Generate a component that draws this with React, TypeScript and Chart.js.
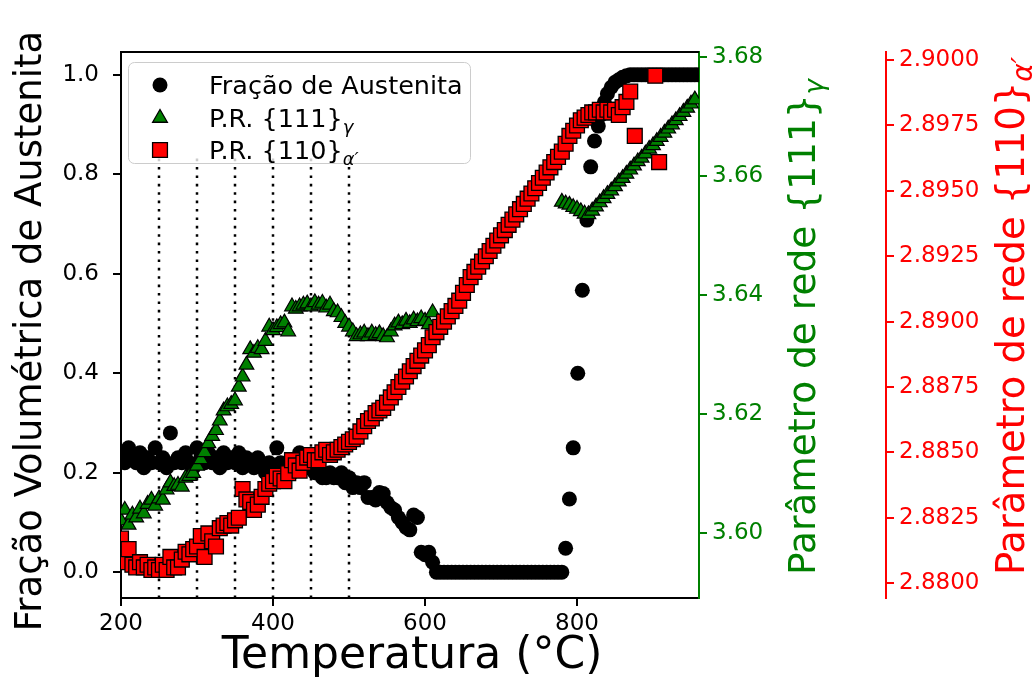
import { useEffect, useRef } from 'react';
import { Chart, registerables } from 'chart.js';

Chart.register(...registerables);

// ---- Data -------------------------------------------------------------

// Austenite volume fraction vs temperature (left axis)
const austeniteTemp = [
  200, 205, 210, 215, 220, 225, 230, 235, 240, 245, 250, 255, 260, 265, 270, 275, 280, 285, 290, 295,
  300, 305, 310, 315, 320, 325, 330, 335, 340, 345, 350, 355, 360, 365, 370, 375, 380, 385, 390, 395,
  400, 405, 410, 415, 420, 425, 430, 435, 440, 445, 450, 455, 460, 465, 470, 475, 480, 485, 490, 495,
  500, 505, 510, 515, 520, 525, 530, 535, 540, 545, 550, 555, 560, 565, 570, 575, 580, 585, 590, 595,
  600, 605, 610, 615, 620, 625, 630, 635, 640, 645, 650, 655, 660, 665, 670, 675, 680, 685, 690, 695,
  700, 705, 710, 715, 720, 725, 730, 735, 740, 745, 750, 755, 760, 765, 770, 775, 780,
  785, 790, 795, 801, 807, 813, 818, 823, 828, 832, 836, 840, 845, 850, 855, 860, 865, 870,
  875, 880, 885, 890, 895, 900, 905, 910, 915, 920, 925, 930, 935, 940, 945, 950, 955, 960,
];
const austeniteFraction = [
  0.24, 0.22, 0.25, 0.23, 0.22, 0.24, 0.21, 0.23, 0.22, 0.25, 0.22, 0.23, 0.21, 0.28, 0.22, 0.23, 0.22, 0.24, 0.22, 0.21,
  0.25, 0.23, 0.22, 0.24, 0.22, 0.23, 0.21, 0.24, 0.22, 0.23, 0.22, 0.24, 0.21, 0.23, 0.22, 0.21, 0.23, 0.22, 0.2, 0.22,
  0.21, 0.25, 0.22, 0.21, 0.22, 0.2, 0.21, 0.24, 0.22, 0.21, 0.21, 0.2, 0.21, 0.19, 0.19, 0.2, 0.19, 0.19, 0.2, 0.18,
  0.19, 0.17, 0.18, 0.17, 0.18, 0.15, 0.15, 0.145, 0.16, 0.158, 0.14, 0.13, 0.125, 0.11, 0.1, 0.09, 0.085, 0.115, 0.11, 0.04,
  0.035, 0.04, 0.02, 0.0, 0, 0, 0, 0, 0, 0, 0, 0, 0, 0, 0, 0, 0, 0, 0, 0,
  0, 0, 0, 0, 0, 0, 0, 0, 0, 0, 0, 0, 0, 0, 0, 0, 0,
  0.048, 0.147, 0.25, 0.4, 0.567, 0.708, 0.815, 0.867, 0.897, 0.92, 0.945, 0.962, 0.975, 0.985, 0.99, 0.995, 0.998, 1.0,
  1, 1, 1, 1, 1, 1, 1, 1, 1, 1, 1, 1, 1, 1, 1, 1, 1, 1,
];

// Lattice parameter {111} of austenite (green axis)
const gammaTemp = [
  200, 205, 210, 215, 220, 225, 230, 235, 240, 245, 250, 255, 260, 265, 270, 275, 280, 285, 290, 295,
  300, 305, 310, 315, 320, 325, 330, 335, 340, 345, 350, 355, 360, 365, 370, 375, 380, 385, 390, 395,
  400, 405, 410, 415, 420, 425, 430, 435, 440, 445, 450, 455, 460, 465, 470, 475, 480, 485, 490, 495,
  500, 505, 510, 515, 520, 525, 530, 535, 540, 545, 550, 555, 560, 565, 570, 575, 580, 585, 590, 595,
  600, 605, 610,
  780, 785, 790, 795, 800, 805, 810, 815, 820, 825, 830, 835, 840, 845, 850, 855, 860, 865,
  870, 875, 880, 885, 890, 895, 900, 905, 910, 915, 920, 925, 930, 935, 940, 945, 950, 955,
];
const gammaLattice = [
  3.602, 3.6038, 3.6013, 3.603, 3.6025, 3.604, 3.6032, 3.6048, 3.6055, 3.6045, 3.6057, 3.6055, 3.6072, 3.6084, 3.6078, 3.608, 3.6077, 3.6092, 3.6095, 3.61,
  3.6112, 3.6123, 3.6135, 3.615, 3.6162, 3.6172, 3.6188, 3.6205, 3.6212, 3.6216, 3.6222, 3.6245, 3.6262, 3.6282, 3.6308, 3.6302, 3.631, 3.6308, 3.6322, 3.6346,
  3.634, 3.6345, 3.635, 3.6353, 3.6338, 3.638, 3.6376, 3.638, 3.6383, 3.6385, 3.638, 3.6387, 3.6383, 3.6386, 3.6378, 3.6383, 3.6372, 3.637, 3.6362, 3.6352,
  3.6346, 3.6338, 3.633, 3.6333, 3.6336, 3.633, 3.6336, 3.6332, 3.6335, 3.633, 3.6328, 3.6338, 3.6348, 3.6353, 3.635, 3.6356, 3.6352, 3.6358, 3.6355, 3.636,
  3.6356, 3.635, 3.637,
  3.6556, 3.6553, 3.6551, 3.6547, 3.6544, 3.654, 3.6536, 3.6535, 3.6541, 3.6548, 3.6555, 3.6562, 3.6569, 3.6575, 3.6582, 3.659, 3.6596, 3.6603,
  3.661, 3.6617, 3.6624, 3.663, 3.6637, 3.6645, 3.6651, 3.6658, 3.6665, 3.6672, 3.6679, 3.6686, 3.6693, 3.67, 3.6707, 3.6714, 3.6721, 3.6728,
];

// Lattice parameter {110} of martensite (red axis)
const alphaTemp = [
  200, 205, 210, 215, 220, 225, 230, 235, 240, 245, 250, 255, 260, 265, 270, 275, 280, 285, 290, 295,
  300, 305, 310, 315, 320, 325, 330, 335, 340, 345, 350, 355, 360, 365, 370, 375, 380, 385, 390, 395,
  400, 405, 410, 415, 420, 425, 430, 435, 440, 445, 450, 455, 460, 465, 470, 475, 480, 485, 490, 495,
  500, 505, 510, 515, 520, 525, 530, 535, 540, 545, 550, 555, 560, 565, 570, 575, 580, 585, 590, 595,
  600, 605, 610, 615, 620, 625, 630, 635, 640, 645, 650, 655, 660, 665, 670, 675, 680, 685, 690, 695,
  700, 705, 710, 715, 720, 725, 730, 735, 740, 745, 750, 755, 760, 765, 770, 775, 780, 785, 790, 795,
  800, 805, 810, 815, 820, 825, 830, 835, 840, 845, 850, 855, 860, 865, 870,
  876, 903, 908,
];
const alphaLattice = [
  2.8817, 2.8808, 2.8813, 2.8807, 2.8806, 2.8808, 2.8806, 2.8807, 2.8805, 2.8806,
  2.8805, 2.8807, 2.8805, 2.881, 2.8806, 2.8806, 2.8809, 2.8812, 2.8811, 2.8813,
  2.8814, 2.8818, 2.881, 2.8819, 2.8816, 2.8814, 2.8821, 2.8822, 2.8823, 2.8822,
  2.8824, 2.8825, 2.8836, 2.8832, 2.8831, 2.8828, 2.883, 2.8833, 2.8836, 2.8838,
  2.8839, 2.8841, 2.884, 2.8839, 2.8842, 2.8847, 2.8845, 2.8843, 2.8846, 2.8848,
  2.8849, 2.8847, 2.8847, 2.885, 2.8851, 2.8849, 2.885, 2.8851, 2.8852, 2.8853,
  2.8854, 2.8855, 2.8856, 2.8858, 2.886, 2.8862, 2.8863, 2.8865, 2.8866, 2.8867,
  2.8869, 2.8871, 2.8873, 2.8875, 2.8877, 2.8879, 2.8881, 2.8883, 2.8885, 2.8887,
  2.8889, 2.8891, 2.8894, 2.8896, 2.8898, 2.89, 2.8902, 2.8904, 2.8906, 2.8908,
  2.8911, 2.8914, 2.8917, 2.8919, 2.8921, 2.8923, 2.8925, 2.8927, 2.8929, 2.8931,
  2.8933, 2.8935, 2.8937, 2.8939, 2.8941, 2.8943, 2.8945, 2.8947, 2.8949, 2.8951,
  2.8953, 2.8955, 2.8957, 2.8959, 2.8961, 2.8963, 2.8965, 2.8968, 2.8971, 2.8973,
  2.8975, 2.8977, 2.8978, 2.8979, 2.898, 2.898, 2.8981, 2.898, 2.8981, 2.898,
  2.8981, 2.8979, 2.8982, 2.8984, 2.8988,
  2.8971, 2.8994, 2.8961,
];

// Temperatures marked with dotted vertical lines
const markedTemps = [250, 300, 350, 400, 450, 500];

// Axis ticks
const xTicks = [200, 400, 600, 800];
const fractionTicks = [0.0, 0.2, 0.4, 0.6, 0.8, 1.0];
const gammaTicks = [3.6, 3.62, 3.64, 3.66, 3.68];
const alphaTicks = [2.88, 2.8825, 2.885, 2.8875, 2.89, 2.8925, 2.895, 2.8975, 2.9];

// ---- Styling ----------------------------------------------------------

const FONT = "'DejaVu Sans', 'Liberation Sans', sans-serif";
const GREEN = '#008000';
const RED = '#ff0000';
const TICK_SIZE = 23;
const LEGEND_SIZE = 25.5;

const R_CIRCLE = 7.5;
const R_TRIANGLE = 8.5;
const R_RECT = 10.5;

type Part = { text: string; size: number; italic?: boolean; dy?: number };

function drawRichText(
  ctx: CanvasRenderingContext2D,
  parts: Part[],
  x: number,
  y: number,
  angle: number,
  color: string,
  align: 'center' | 'left',
) {
  ctx.save();
  ctx.translate(x, y);
  ctx.rotate(angle);
  ctx.fillStyle = color;
  ctx.textBaseline = 'alphabetic';
  ctx.textAlign = 'left';
  const widths = parts.map((p) => {
    ctx.font = `${p.italic ? 'italic ' : ''}${p.size}px ${FONT}`;
    return ctx.measureText(p.text).width;
  });
  const total = widths.reduce((a, b) => a + b, 0);
  let cx = align === 'center' ? -total / 2 : 0;
  parts.forEach((p, i) => {
    ctx.font = `${p.italic ? 'italic ' : ''}${p.size}px ${FONT}`;
    ctx.fillText(p.text, cx, p.dy || 0);
    cx += widths[i];
  });
  ctx.restore();
}

function drawMarker(ctx: CanvasRenderingContext2D, style: string, x: number, y: number) {
  ctx.beginPath();
  if (style === 'circle') {
    ctx.arc(x, y, R_CIRCLE, 0, Math.PI * 2);
    ctx.fillStyle = '#000';
    ctx.fill();
    return;
  }
  if (style === 'triangle') {
    const r = R_TRIANGLE;
    let a = 0;
    ctx.moveTo(x + Math.sin(a) * r, y - Math.cos(a) * r);
    a += (2 * Math.PI) / 3;
    ctx.lineTo(x + Math.sin(a) * r, y - Math.cos(a) * r);
    a += (2 * Math.PI) / 3;
    ctx.lineTo(x + Math.sin(a) * r, y - Math.cos(a) * r);
    ctx.closePath();
    ctx.fillStyle = GREEN;
  } else {
    const s = Math.SQRT1_2 * R_RECT;
    ctx.rect(x - s, y - s, 2 * s, 2 * s);
    ctx.fillStyle = RED;
  }
  ctx.fill();
  ctx.strokeStyle = '#000';
  ctx.lineWidth = 1.3;
  ctx.stroke();
}

const decorations = {
  id: 'decorations',
  beforeDatasetsDraw(chart: any) {
    const { ctx, chartArea, scales } = chart;
    ctx.save();
    ctx.strokeStyle = '#000';
    ctx.lineWidth = 2.5;
    ctx.setLineDash([2.6, 5.8]);
    const top = chartArea.bottom - 0.81 * (chartArea.bottom - chartArea.top);
    for (const t of markedTemps) {
      const x = Math.round(scales.x.getPixelForValue(t));
      ctx.beginPath();
      ctx.moveTo(x, chartArea.bottom);
      ctx.lineTo(x, top);
      ctx.stroke();
    }
    ctx.restore();
  },
  afterDraw(chart: any) {
    const { ctx, chartArea } = chart;
    ctx.save();
    // top spine
    ctx.strokeStyle = '#000';
    ctx.lineWidth = 2;
    ctx.beginPath();
    ctx.moveTo(chartArea.left - 1, chartArea.top);
    ctx.lineTo(chartArea.right, chartArea.top);
    ctx.stroke();

    // legend
    const lx = 128.5, ly = 62.5, lw = 342, lh = 101;
    ctx.beginPath();
    ctx.roundRect(lx, ly, lw, lh, 6);
    ctx.fillStyle = 'rgba(255,255,255,0.8)';
    ctx.fill();
    ctx.strokeStyle = '#cccccc';
    ctx.lineWidth = 1;
    ctx.stroke();

    const rows = [
      { style: 'circle', y: 85, parts: [{ text: 'Fração de Austenita', size: LEGEND_SIZE }] },
      {
        style: 'triangle',
        y: 118,
        parts: [
          { text: 'P.R. {111}', size: LEGEND_SIZE },
          { text: 'γ', size: 18, italic: true, dy: 6 },
        ],
      },
      {
        style: 'rect',
        y: 150,
        parts: [
          { text: 'P.R. {110}', size: LEGEND_SIZE },
          { text: 'α′', size: 18, italic: true, dy: 6 },
        ],
      },
    ];
    for (const row of rows) {
      drawMarker(ctx, row.style, 160, row.y);
      drawRichText(ctx, row.parts, 209, row.y + 9, 0, '#000', 'left');
    }

    // axis titles
    const midY = (chartArea.top + chartArea.bottom) / 2;
    drawRichText(
      ctx,
      [{ text: 'Temperatura (°C)', size: 44 }],
      (chartArea.left + chartArea.right) / 2 + 2,
      668,
      0,
      '#000',
      'center',
    );
    drawRichText(
      ctx,
      [{ text: 'Fração Volumétrica de Austenita', size: 37 }],
      41,
      midY + 6,
      -Math.PI / 2,
      '#000',
      'center',
    );
    drawRichText(
      ctx,
      [
        { text: 'Parâmetro de rede {111}', size: 37.5 },
        { text: 'γ', size: 26, italic: true, dy: 8 },
      ],
      815,
      midY + 2,
      -Math.PI / 2,
      GREEN,
      'center',
    );
    drawRichText(
      ctx,
      [
        { text: 'Parâmetro de rede {110}', size: 38.5 },
        { text: 'α′', size: 28, italic: true, dy: 8 },
      ],
      1024,
      midY - 9,
      -Math.PI / 2,
      RED,
      'center',
    );
    ctx.restore();
  },
};

function points(xs: number[], ys: number[]) {
  return xs.map((x, i) => ({ x, y: ys[i] }));
}

function fixedTicks(values: number[]) {
  return (scale: any) => {
    scale.ticks = values.map((value) => ({ value }));
  };
}

function axisStyle(color: string, digits: number, padding: number) {
  return {
    grid: { drawOnChartArea: false, drawTicks: true, tickLength: 8, color, lineWidth: 2 },
    border: { display: true, color, width: 2 },
    ticks: {
      color,
      padding,
      autoSkip: false,
      maxRotation: 0,
      font: { size: TICK_SIZE, family: FONT },
      callback: (v: number) => Number(v).toFixed(digits),
    },
  };
}

export default function App() {
  const canvasRef = useRef<HTMLCanvasElement | null>(null);

  useEffect(() => {
    if (!canvasRef.current) return;
    Chart.defaults.font.family = FONT;
    const chart = new Chart(canvasRef.current, {
      type: 'scatter',
      data: {
        datasets: [
          {
            label: 'Fração de Austenita',
            data: points(austeniteTemp, austeniteFraction),
            yAxisID: 'yFraction',
            pointStyle: 'circle',
            pointRadius: R_CIRCLE,
            backgroundColor: '#000',
            borderColor: '#000',
            borderWidth: 0,
            order: 3,
          },
          {
            label: 'P.R. {111}γ',
            data: points(gammaTemp, gammaLattice),
            yAxisID: 'yGamma',
            pointStyle: 'triangle',
            pointRadius: R_TRIANGLE,
            backgroundColor: GREEN,
            borderColor: '#000',
            borderWidth: 1.2,
            order: 2,
          },
          {
            label: "P.R. {110}α′",
            data: points(alphaTemp, alphaLattice),
            yAxisID: 'yAlpha',
            pointStyle: 'rect',
            pointRadius: R_RECT,
            backgroundColor: RED,
            borderColor: '#000',
            borderWidth: 1.3,
            order: 1,
          },
        ],
      },
      options: {
        responsive: false,
        animation: false,
        events: [],
        layout: { padding: { top: 52, left: 0, right: 0, bottom: 0 } },
        plugins: { legend: { display: false }, tooltip: { enabled: false } },
        scales: {
          x: {
            type: 'linear',
            position: 'bottom',
            min: 200,
            max: 960.5,
            afterBuildTicks: fixedTicks(xTicks),
            afterFit: (s: any) => {
              s.height = 88;
            },
            ...axisStyle('#000', 0, 4),
          },
          yFraction: {
            type: 'linear',
            position: 'left',
            min: -0.052,
            max: 1.046,
            afterBuildTicks: fixedTicks(fractionTicks),
            afterFit: (s: any) => {
              s.width = 121;
            },
            ...axisStyle('#000', 1, 14),
          },
          yGamma: {
            type: 'linear',
            position: 'right',
            min: 3.589,
            max: 3.6808,
            afterBuildTicks: fixedTicks(gammaTicks),
            afterFit: (s: any) => {
              s.width = 187;
            },
            ...axisStyle(GREEN, 2, 5),
          },
          yAlpha: {
            type: 'linear',
            position: 'right',
            min: 2.87943,
            max: 2.90031,
            afterBuildTicks: fixedTicks(alphaTicks),
            afterFit: (s: any) => {
              s.width = 146;
            },
            ...axisStyle(RED, 4, 5),
          },
        },
      } as any,
      plugins: [decorations],
    });
    return () => chart.destroy();
  }, []);

  return (
    <div style={{ position: 'fixed', left: 0, top: 0, width: 1032, height: 686, background: '#fff' }}>
      <canvas ref={canvasRef} width={1032} height={686} style={{ display: 'block', width: 1032, height: 686 }} />
    </div>
  );
}
